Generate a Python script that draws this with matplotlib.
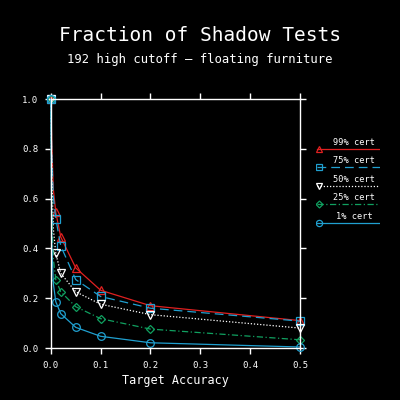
import matplotlib
matplotlib.use("Agg")
import matplotlib.pyplot as plt
from matplotlib.lines import Line2D

accuracy = [0.0, 0.002, 0.005, 0.01, 0.02, 0.05, 0.1, 0.2, 0.5]

cert99 = [1.0, 0.82, 0.64, 0.545, 0.446, 0.322, 0.232, 0.170, 0.110]
cert75 = [1.0, 0.78, 0.61, 0.520, 0.410, 0.275, 0.207, 0.160, 0.108]
cert50 = [1.0, 0.70, 0.48, 0.380, 0.300, 0.226, 0.176, 0.134, 0.080]
cert25 = [1.0, 0.55, 0.36, 0.274, 0.226, 0.166, 0.118, 0.076, 0.033]
cert01 = [1.0, 0.42, 0.26, 0.186, 0.138, 0.083, 0.047, 0.021, 0.004]

labels = ["99% cert", "75% cert", "50% cert", "25% cert", "1% cert"]
xticks = [0.0, 0.1, 0.2, 0.3, 0.4, 0.5]
yticks = [0.0, 0.2, 0.4, 0.6, 0.8, 1.0]

red = "#e02020"
cyan = "#20a0d0"
green = "#10a060"
styles = [
    dict(color=red, ls="-", marker="^"),
    dict(color=cyan, ls=(0, (7, 4)), marker="s"),
    dict(color="white", ls=(0, (1, 1.5)), marker="v"),
    dict(color=green, ls=(0, (5, 2, 1, 2)), marker="D"),
    dict(color=cyan, ls="-", marker="o"),
]

mono = "DejaVu Sans Mono"

fig = plt.figure(figsize=(4, 4), dpi=100, facecolor="black")
ax = fig.add_axes([0.127, 0.13, 0.623, 0.622], facecolor="black")

for ys, lab, st in zip([cert99, cert75, cert50, cert25, cert01], labels, styles):
    ax.plot(accuracy, ys, color=st["color"], ls=st["ls"], lw=0.9,
            marker=st["marker"], ms=5.5 if st["marker"] != "D" else 4,
            markevery=[0, 3, 4, 5, 6, 7, 8],
            mfc="none", mec=st["color"], mew=0.9, clip_on=False)

ax.set_xlim(0, 0.5)
ax.set_ylim(0, 1.0)
ax.set_xticks(xticks)
ax.set_yticks(yticks)
ax.set_xticklabels(["%.1f" % v for v in xticks], family=mono, fontsize=6.5, color="white")
ax.set_yticklabels(["%.1f" % v for v in yticks], family=mono, fontsize=6.5, color="white")
ax.tick_params(colors="white", direction="out", length=4, width=1,
               top=True, right=True, labeltop=False, labelright=False, pad=5)
for s in ax.spines.values():
    s.set_color("white")
    s.set_linewidth(1)
ax.set_xlabel("Target Accuracy", family=mono, fontsize=8.5, color="white", labelpad=3)

fig.text(0.5, 0.912, "Fraction of Shadow Tests", ha="center", va="center",
         family=mono, fontsize=14, color="white")
fig.text(0.5, 0.85, "192 high cutoff \u2014 floating furniture", ha="center", va="center",
         family=mono, fontsize=8.8, color="white")

# legend drawn at the right of the plot
lax = fig.add_axes([0.79, 0.40, 0.16, 0.24], facecolor="none")
lax.set_xlim(0, 1)
lax.set_ylim(0, 1)
lax.axis("off")
for i, (lab, st) in enumerate(zip(labels, styles)):
    y = 0.95 - i * 0.193
    lax.add_line(Line2D([0.02, 1.0], [y, y], color=st["color"], ls=st["ls"], lw=0.9))
    lax.add_line(Line2D([0.04], [y], color=st["color"], marker=st["marker"],
                        ms=4.5 if st["marker"] != "D" else 3.5, mfc="none", mew=0.9))
    lax.text(0.6, y + 0.07, lab, ha="center", va="center", family=mono,
             fontsize=6.2, color="white")

fig.savefig("out.png", dpi=100, facecolor="black")
